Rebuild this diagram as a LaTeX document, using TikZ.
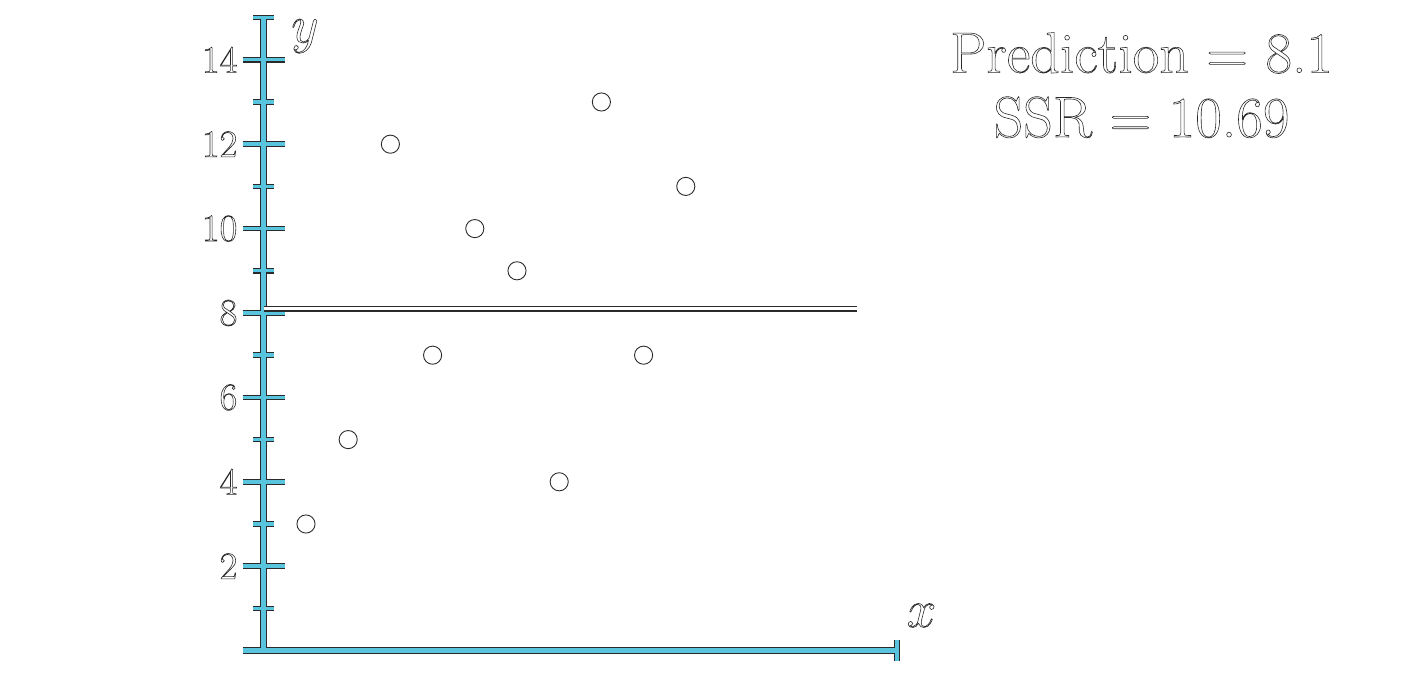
\RequirePackage{fix-cm}
\documentclass[tikz,border=0pt]{standalone}
\definecolor{axblue}{HTML}{58C4DD}
\definecolor{outl}{HTML}{2A2A2A}
\newcommand{\outlinetext}[1]{\special{pdf:literal 1 Tr 0.4 w}#1\special{pdf:literal 0 Tr}}
\begin{document}
\begin{tikzpicture}[x=1cm,y=1cm,
  axouter/.style={draw=outl, line width=4.8pt},
  axinner/.style={draw=axblue, line width=3.2pt},
  tkouter/.style={draw=outl, line width=3.8pt},
  tkinner/.style={draw=axblue, line width=2.3pt},
  ticklabel/.style={anchor=east, inner sep=0pt, text=outl, font=\fontsize{26}{31}\selectfont},
  axlabel/.style={inner sep=0pt, text=outl, font=\fontsize{36}{43}\selectfont},
  bigtext/.style={anchor=base, inner sep=0pt, text=outl, font=\fontsize{39}{47}\selectfont},
  datapt/.style={circle, minimum size=0.43cm, inner sep=0pt, draw=outl, line width=0.6pt, fill=white}]
\useasboundingbox (-6.251,-0.791) rectangle (27.114,15.417);
\fill[white] (-6.251,-0.791) rectangle (27.114,15.417);
% outlines of axes
\draw[axouter] (-0.5,0) -- (15,0);
\draw[axouter] (0,0) -- (0,15);
\draw[tkouter] (15,-0.25) -- (15,0.25);
\draw[tkouter] (-0.25,15) -- (0.25,15);
\foreach \v in {2,4,...,14} \draw[tkouter] (-0.5,\v) -- (0.5,\v);
\foreach \v in {1,3,...,13} \draw[tkouter] (-0.25,\v) -- (0.25,\v);
% blue interior
\draw[axinner] (-0.5,0) -- (15,0);
\draw[axinner] (0,0) -- (0,15);
\draw[tkinner] (15,-0.25) -- (15,0.25);
\draw[tkinner] (-0.25,15) -- (0.25,15);
\foreach \v in {2,4,...,14} \draw[tkinner] (-0.5,\v) -- (0.5,\v);
\foreach \v in {1,3,...,13} \draw[tkinner] (-0.25,\v) -- (0.25,\v);
% tick labels
\foreach \v in {2,4,...,14} \node[ticklabel] (lab\v) at (-0.62,\v) {\outlinetext{\v}};
% axis labels
\node[axlabel] (xlab) at (15.585,0.832) {\outlinetext{$x$}};
\node[axlabel] (ylab) at (0.976,14.56) {\outlinetext{$y$}};
% prediction line
\coordinate (ls) at (0,8.1);
\coordinate (le) at (14.05,8.1);
\draw[outl, line width=3.8pt] (ls) -- (le);
\draw[white, line width=2.3pt] (ls) -- (le);
% data points
\node[datapt] (p1) at (1,3) {};
\node[datapt] (p2) at (2,5) {};
\node[datapt] (p3) at (3,12) {};
\node[datapt] (p4) at (4,7) {};
\node[datapt] (p5) at (5,10) {};
\node[datapt] (p6) at (6,9) {};
\node[datapt] (p7) at (7,4) {};
\node[datapt] (p8) at (8,13) {};
\node[datapt] (p9) at (9,7) {};
\node[datapt] (p10) at (10,11) {};
% text
\node[bigtext] (pred) at (20.80,13.695) {\outlinetext{Prediction $=$ 8.1}};
\node[bigtext] (ssr) at (20.80,12.17) {\outlinetext{SSR $=$ 10.69}};
\end{tikzpicture}
\end{document}
